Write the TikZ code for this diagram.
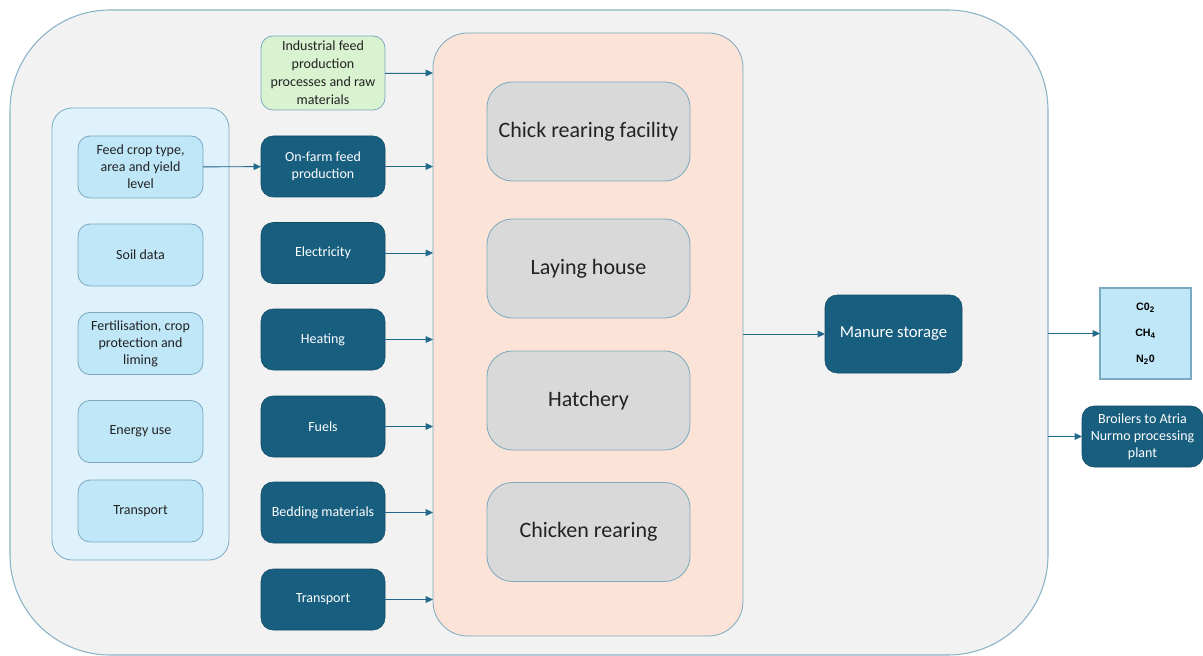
\documentclass[tikz,border=0pt]{standalone}
\usepackage{fontspec}
\setmainfont{Carlito}
\newfontfamily\gasfont{Liberation Sans}
\usetikzlibrary{arrows.meta}
\definecolor{outerfill}{HTML}{F2F2F2}
\definecolor{outerline}{HTML}{8AB3C7}
\definecolor{lbfill}{HTML}{DFF2FB}
\definecolor{lbinner}{HTML}{BFE7F8}
\definecolor{lbline}{HTML}{7AA9C0}
\definecolor{darkblue}{HTML}{175E7F}
\definecolor{greenfill}{HTML}{D9F2D0}
\definecolor{peach}{HTML}{FBE3D7}
\definecolor{greybox}{HTML}{D9D9D9}
\definecolor{arrowc}{HTML}{226A8C}
\definecolor{txt}{HTML}{222222}
\tikzset{
  wh/.style 2 args={minimum width=#1*0.75pt, minimum height=#2*0.75pt, inner sep=0pt, outer sep=0pt},
  outerbox/.style={draw=outerline, fill=outerfill, line width=0.8pt, rounded corners=75pt},
  container/.style={draw=lbline, fill=lbfill, line width=0.6pt, rounded corners=15pt},
  lbbox/.style={draw=lbline, fill=lbinner, line width=0.6pt, rounded corners=9pt, align=center, font=\fontsize{10.5}{12.8}\selectfont, text=txt},
  dbbox/.style={draw=darkblue!80!black, fill=darkblue, line width=0.4pt, rounded corners=9pt, align=center, font=\fontsize{10.5}{12.8}\selectfont, text=white},
  grbox/.style={draw=lbline, fill=greenfill, line width=0.6pt, rounded corners=9pt, align=center, font=\fontsize{10.5}{13.5}\selectfont, text=txt},
  peachbox/.style={draw=lbline, fill=peach, line width=0.6pt, rounded corners=26pt},
  greyb/.style={draw=lbline, fill=greybox, line width=0.6pt, rounded corners=19pt, align=center, font=\fontsize{16.5}{19}\selectfont, text=txt},
  gasbox/.style={draw=lbline, fill=lbinner, line width=0.8pt, align=center, font=\gasfont\bfseries\fontsize{8}{19.5}\selectfont, text=black},
  arr/.style={draw=arrowc, line width=0.7pt, -{Triangle[length=5.5pt,width=5pt]}, fill=arrowc}
}
\begin{document}
\begin{tikzpicture}[x=0.75pt,y=-0.75pt]
\useasboundingbox (0,0) rectangle (1203,656);
\fill[white] (0,0) rectangle (1203,656);
% outer
\node[outerbox, wh={1038}{645}] (outer) at (529,332.5) {};
% left container
\node[container, wh={177}{452}] (leftc) at (140.5,334) {};
\node[lbbox, wh={125}{62}] (feed) at (140.5,167) {Feed crop type,\\area and yield\\level};
\node[lbbox, wh={125}{62}] (soil) at (140.5,255) {Soil data};
\node[lbbox, wh={125}{62}] (fert) at (140.5,343.5) {Fertilisation, crop\\protection and\\liming};
\node[lbbox, wh={125}{62}] (energy) at (140.5,431.5) {Energy use};
\node[lbbox, wh={125}{62}] (transpA) at (140.5,511) {Transport};
% middle column
\node[grbox, wh={124}{74}] (indus) at (323,73) {Industrial feed\\production\\processes and raw\\materials};
\node[dbbox, wh={124}{61}] (onfarm) at (323,166.5) {On-farm feed\\production};
\node[dbbox, wh={124}{61}] (elec) at (323,253) {Electricity};
\node[dbbox, wh={124}{61}] (heat) at (323,339.5) {Heating};
\node[dbbox, wh={124}{61}] (fuels) at (323,426.5) {Fuels};
\node[dbbox, wh={124}{61}] (bedding) at (323,512.5) {Bedding materials};
\node[dbbox, wh={124}{61}] (transpB) at (323,599.5) {Transport};
% peach
\node[peachbox, wh={310}{603}] (farm) at (588,334.5) {};
\node[greyb, wh={203}{99}] (chick) at (588.5,131.5) {Chick rearing facility};
\node[greyb, wh={203}{99}] (laying) at (588.5,268.5) {Laying house};
\node[greyb, wh={203}{99}] (hatch) at (588.5,400.5) {Hatchery};
\node[greyb, wh={203}{99}] (rear) at (588.5,532) {Chicken rearing};
% right
\node[dbbox, wh={137}{78}, font=\fontsize{12.5}{15}\selectfont] (manure) at (893.5,334) {Manure storage};
\node[gasbox, wh={91}{91}] (gas) at (1145.5,333.5) {C0\textsubscript{2}\\CH\textsubscript{4}\\N\textsubscript{2}0};
\node[dbbox, wh={121}{61}] (broil) at (1142.5,436.5) {Broilers to Atria\\Nurmo processing\\plant};
% arrows
\draw[arr] (feed) -- (onfarm);
\foreach \n in {indus,onfarm,elec,heat,fuels,bedding,transpB}
  \draw[arr] (\n) -- (\n -| farm.west);
\draw[arr] (farm.east |- manure) -- (manure);
\draw[arr] (outer.east |- gas) -- (gas);
\draw[arr] (outer.east |- broil) -- (broil);
\end{tikzpicture}
\end{document}
